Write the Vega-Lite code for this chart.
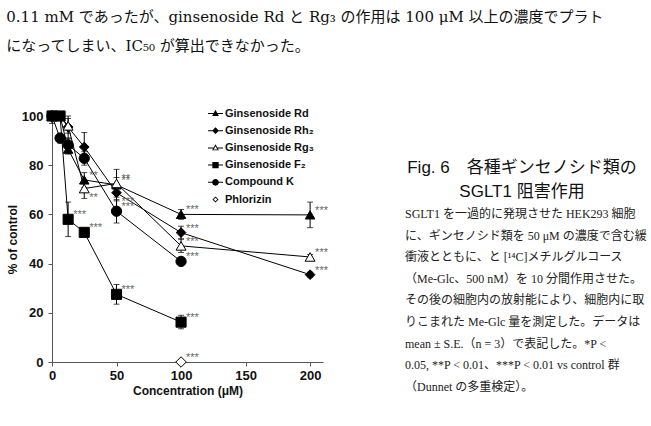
{
  "$schema": "https://vega.github.io/schema/vega-lite/v6.json",
  "background": "white",
  "padding": {"left": 6, "top": 10, "right": 5, "bottom": 5},
  "title": {
    "text": ["0.11 mM であったが、ginsenoside Rd と Rg₃ の作用は 100 μM 以上の濃度でプラト", "になってしまい、IC₅₀ が算出できなかった。"],
    "anchor": "start",
    "font": "DejaVu Serif, Noto Sans CJK JP",
    "fontSize": 15,
    "fontWeight": "normal",
    "lineHeight": 29,
    "color": "#111",
    "offset": 52
  },
  "datasets": {
    "curves": [
      {"s": "Ginsenoside Rd", "c": 0, "v": 100, "lo": 97, "hi": 100, "sig": ""},
      {"s": "Ginsenoside Rd", "c": 6.25, "v": 100, "lo": null, "hi": null, "sig": ""},
      {"s": "Ginsenoside Rd", "c": 12.5, "v": 86.5, "lo": 84.5, "hi": 88.5, "sig": ""},
      {"s": "Ginsenoside Rd", "c": 25, "v": 74, "lo": 71, "hi": 77, "sig": "**"},
      {"s": "Ginsenoside Rd", "c": 50, "v": 72, "lo": 69, "hi": 75, "sig": "**"},
      {"s": "Ginsenoside Rd", "c": 100, "v": 60, "lo": 58, "hi": 62, "sig": "***"},
      {"s": "Ginsenoside Rd", "c": 200, "v": 59.8, "lo": 54.6, "hi": 65, "sig": "***"},
      {"s": "Ginsenoside Rh₂", "c": 0, "v": 100, "lo": null, "hi": null, "sig": ""},
      {"s": "Ginsenoside Rh₂", "c": 6.25, "v": 100, "lo": null, "hi": null, "sig": ""},
      {"s": "Ginsenoside Rh₂", "c": 12.5, "v": 95.5, "lo": 91, "hi": 100, "sig": ""},
      {"s": "Ginsenoside Rh₂", "c": 25, "v": 87.4, "lo": 81.5, "hi": 93.3, "sig": ""},
      {"s": "Ginsenoside Rh₂", "c": 50, "v": 68.8, "lo": 65.5, "hi": 72, "sig": "***"},
      {"s": "Ginsenoside Rh₂", "c": 100, "v": 52.6, "lo": 50, "hi": 55.2, "sig": "***"},
      {"s": "Ginsenoside Rh₂", "c": 200, "v": 35.5, "lo": 34.5, "hi": 36.5, "sig": "***"},
      {"s": "Ginsenoside Rg₃", "c": 0, "v": 100, "lo": null, "hi": null, "sig": ""},
      {"s": "Ginsenoside Rg₃", "c": 6.25, "v": 100, "lo": null, "hi": null, "sig": ""},
      {"s": "Ginsenoside Rg₃", "c": 12.5, "v": 96, "lo": 93, "hi": 99, "sig": ""},
      {"s": "Ginsenoside Rg₃", "c": 25, "v": 70.5, "lo": 66.5, "hi": 74, "sig": "**"},
      {"s": "Ginsenoside Rg₃", "c": 50, "v": 72.6, "lo": 67, "hi": 78.3, "sig": "**"},
      {"s": "Ginsenoside Rg₃", "c": 100, "v": 47.2, "lo": 44.5, "hi": 50, "sig": "***"},
      {"s": "Ginsenoside Rg₃", "c": 200, "v": 42.7, "lo": 41.7, "hi": 43.7, "sig": "***"},
      {"s": "Ginsenoside F₂", "c": 0, "v": 100, "lo": null, "hi": null, "sig": ""},
      {"s": "Ginsenoside F₂", "c": 6.25, "v": 100, "lo": null, "hi": null, "sig": ""},
      {"s": "Ginsenoside F₂", "c": 12.5, "v": 58, "lo": 51, "hi": 65, "sig": "***"},
      {"s": "Ginsenoside F₂", "c": 25, "v": 52.7, "lo": 51.5, "hi": 54, "sig": "***"},
      {"s": "Ginsenoside F₂", "c": 50, "v": 27.5, "lo": 23.5, "hi": 31.5, "sig": "***"},
      {"s": "Ginsenoside F₂", "c": 100, "v": 16.2, "lo": 13.5, "hi": 19, "sig": "***"},
      {"s": "Compound K", "c": 0, "v": 100, "lo": null, "hi": null, "sig": ""},
      {"s": "Compound K", "c": 6.25, "v": 91, "lo": 89, "hi": 93, "sig": ""},
      {"s": "Compound K", "c": 12.5, "v": 88.3, "lo": 85.5, "hi": 91, "sig": ""},
      {"s": "Compound K", "c": 25, "v": 82.8, "lo": 80, "hi": 85.5, "sig": ""},
      {"s": "Compound K", "c": 50, "v": 61.3, "lo": 56.5, "hi": 66, "sig": "***"},
      {"s": "Compound K", "c": 100, "v": 40.9, "lo": 39.5, "hi": 42.3, "sig": "***"},
      {"s": "Phlorizin", "c": 100, "v": 0, "lo": null, "hi": null, "sig": "***"}
    ],
    "caption": [
      {"line": 0, "kind": "head", "t": "Fig. 6　各種ギンセノシド類の"},
      {"line": 1, "kind": "head", "t": "SGLT1 阻害作用"},
      {"line": 2, "kind": "body", "t": "SGLT1 を一過的に発現させた HEK293 細胞"},
      {"line": 3, "kind": "body", "t": "に、ギンセノシド類を 50 μM の濃度で含む緩"},
      {"line": 4, "kind": "body", "t": "衝液とともに、と [¹⁴C]メチルグルコース"},
      {"line": 5, "kind": "body", "t": "（Me-Glc、500 nM）を 10 分間作用させた。"},
      {"line": 6, "kind": "body", "t": "その後の細胞内の放射能により、細胞内に取"},
      {"line": 7, "kind": "body", "t": "りこまれた Me-Glc 量を測定した。データは"},
      {"line": 8, "kind": "body", "t": "mean ± S.E.（n = 3）で表記した。*P <"},
      {"line": 9, "kind": "body", "t": "0.05, **P < 0.01、***P < 0.01 vs control 群"},
      {"line": 10, "kind": "body", "t": "（Dunnet の多重検定）。"}
    ]
  },
  "spacing": 77,
  "hconcat": [
    {
      "width": 271,
      "height": 246,
      "data": {"name": "curves"},
      "layer": [
        {
          "mark": {"type": "line", "color": "black", "strokeWidth": 1},
          "encoding": {
            "x": {"field": "c", "type": "quantitative", "scale": {"domain": [0, 210], "nice": false},
                  "axis": {"values": [0, 50, 100, 150, 200], "title": "Concentration (μM)", "labelPadding": 3, "titlePadding": 3}},
            "y": {"field": "v", "type": "quantitative", "scale": {"domain": [0, 100], "nice": false},
                  "axis": {"values": [0, 20, 40, 60, 80, 100], "title": "% of control", "labelPadding": 5, "titlePadding": 2}},
            "detail": {"field": "s"}
          }
        },
        {
          "mark": {"type": "rule", "color": "black", "strokeWidth": 1},
          "encoding": {
            "x": {"field": "c", "type": "quantitative"},
            "y": {"field": "lo", "type": "quantitative"},
            "y2": {"field": "hi"}
          }
        },
        {
          "mark": {"type": "tick", "orient": "horizontal", "color": "black", "thickness": 1, "size": 6},
          "encoding": {
            "x": {"field": "c", "type": "quantitative"},
            "y": {"field": "lo", "type": "quantitative"}
          }
        },
        {
          "mark": {"type": "tick", "orient": "horizontal", "color": "black", "thickness": 1, "size": 6},
          "encoding": {
            "x": {"field": "c", "type": "quantitative"},
            "y": {"field": "hi", "type": "quantitative"}
          }
        },
        {
          "mark": {"type": "point", "filled": true, "stroke": "black", "strokeWidth": 1, "opacity": 1},
          "encoding": {
            "x": {"field": "c", "type": "quantitative"},
            "y": {"field": "v", "type": "quantitative"},
            "shape": {"field": "s", "type": "nominal", "legend": null,
              "scale": {"domain": ["Ginsenoside Rd", "Ginsenoside Rh₂", "Ginsenoside Rg₃", "Ginsenoside F₂", "Compound K", "Phlorizin"],
                        "range": ["triangle-up", "diamond", "triangle-up", "square", "circle", "diamond"]}},
            "fill": {"field": "s", "type": "nominal", "legend": null,
              "scale": {"domain": ["Ginsenoside Rd", "Ginsenoside Rh₂", "Ginsenoside Rg₃", "Ginsenoside F₂", "Compound K", "Phlorizin"],
                        "range": ["black", "black", "white", "black", "black", "white"]}},
            "size": {"field": "s", "type": "nominal", "legend": null,
              "scale": {"domain": ["Ginsenoside Rd", "Ginsenoside Rh₂", "Ginsenoside Rg₃", "Ginsenoside F₂", "Compound K", "Phlorizin"],
                        "range": [90, 110, 150, 121, 100, 80]}}
          }
        },
        {
          "transform": [{"filter": "!((datum.s === 'Ginsenoside Rg₃' && datum.c === 25) || (datum.s === 'Ginsenoside Rh₂' && datum.c === 50))"}],
          "mark": {"type": "text", "align": "left", "baseline": "middle", "dx": 5, "dy": -4, "font": "Liberation Sans", "fontSize": 11, "color": "#666"},
          "encoding": {
            "x": {"field": "c", "type": "quantitative"},
            "y": {"field": "v", "type": "quantitative"},
            "text": {"field": "sig"}
          }
        },
        {
          "transform": [{"filter": "(datum.s === 'Ginsenoside Rg₃' && datum.c === 25) || (datum.s === 'Ginsenoside Rh₂' && datum.c === 50)"}],
          "mark": {"type": "text", "align": "left", "baseline": "middle", "dx": 5, "dy": 9, "font": "Liberation Sans", "fontSize": 11, "color": "#666"},
          "encoding": {
            "x": {"field": "c", "type": "quantitative"},
            "y": {"field": "v", "type": "quantitative"},
            "text": {"field": "sig"}
          }
        },
        {
          "transform": [{"filter": "false"}],
          "mark": {"type": "point", "filled": true, "color": "black", "opacity": 1},
          "encoding": {
            "x": {"field": "c", "type": "quantitative"},
            "y": {"field": "v", "type": "quantitative"},
            "shape": {"field": "s", "type": "nominal",
              "scale": {"domain": ["Ginsenoside Rd", "Ginsenoside Rh₂", "Ginsenoside Rg₃", "Ginsenoside F₂", "Compound K", "Phlorizin"],
                        "range": [
                          "M-1,-0.067L1,-0.067L1,0.067L-1,0.067ZM0,-0.5L0.45,0.32L-0.45,0.32Z",
                          "M-1,-0.067L1,-0.067L1,0.067L-1,0.067ZM0,-0.45L0.45,0L0,0.45L-0.45,0Z",
                          "M-1,-0.067L-0.27,-0.067L-0.27,0.067L-1,0.067ZM0.27,-0.067L1,-0.067L1,0.067L0.27,0.067ZM0,-0.5L0.45,0.32L-0.45,0.32ZM0,-0.22L-0.26,0.2L0.26,0.2Z",
                          "M-1,-0.067L1,-0.067L1,0.067L-1,0.067ZM-0.42,-0.42L0.42,-0.42L0.42,0.42L-0.42,0.42Z",
                          "M-1,-0.067L1,-0.067L1,0.067L-1,0.067ZM0.45,0A0.45,0.45,0,1,1,-0.45,0A0.45,0.45,0,1,1,0.45,0Z",
                          "M0,-0.4L0.4,0L0,0.4L-0.4,0ZM0,-0.24L-0.24,0L0,0.24L0.24,0Z"
                        ]},
              "legend": {"title": null, "orient": "none", "legendX": 156, "legendY": -10, "padding": 0,
                         "labelFont": "Liberation Sans", "labelFontSize": 11, "labelFontWeight": "bold", "labelColor": "#111",
                         "symbolSize": 225, "symbolFillColor": "black", "symbolStrokeWidth": 0, "rowPadding": 4.2, "labelOffset": 2}}
          }
        }
      ],
      "resolve": {"scale": {"shape": "independent"}}
    },
    {
      "width": 234,
      "height": 300,
      "data": {"name": "caption"},
      "layer": [
        {
          "transform": [{"filter": "datum.kind === 'head'"}],
          "mark": {"type": "text", "align": "center", "baseline": "middle", "font": "Liberation Sans, Noto Sans CJK JP", "fontSize": 17, "color": "#111"},
          "encoding": {
            "x": {"datum": 0.5, "type": "quantitative", "scale": {"domain": [0, 1], "nice": false, "zero": false}, "axis": null},
            "y": {"field": "line", "type": "quantitative", "scale": {"domain": [-2.167, 10.333], "reverse": true, "nice": false, "zero": false}, "axis": null},
            "text": {"field": "t"}
          }
        },
        {
          "transform": [{"filter": "datum.kind === 'body'"}],
          "mark": {"type": "text", "align": "left", "baseline": "middle", "font": "Liberation Serif, Noto Sans CJK JP", "fontSize": 12, "color": "#222"},
          "encoding": {
            "x": {"datum": 0, "type": "quantitative", "scale": {"domain": [0, 1], "nice": false, "zero": false}, "axis": null},
            "y": {"field": "line", "type": "quantitative", "scale": {"domain": [-2.53, 11.34], "reverse": true, "nice": false, "zero": false}, "axis": null},
            "text": {"field": "t"}
          }
        }
      ],
      "resolve": {"scale": {"y": "independent"}}
    }
  ],
  "config": {
    "view": {"stroke": null},
    "axis": {
      "grid": false,
      "labelFont": "Liberation Sans", "labelFontSize": 13, "labelFontWeight": "bold", "labelColor": "#111",
      "labelFlush": false, "labelOverlap": false,
      "titleFont": "Liberation Sans", "titleFontSize": 12, "titleFontWeight": "bold", "titleColor": "#111",
      "domainColor": "#555", "tickColor": "#555", "tickSize": 4, "domainWidth": 1, "tickWidth": 1
    }
  }
}
